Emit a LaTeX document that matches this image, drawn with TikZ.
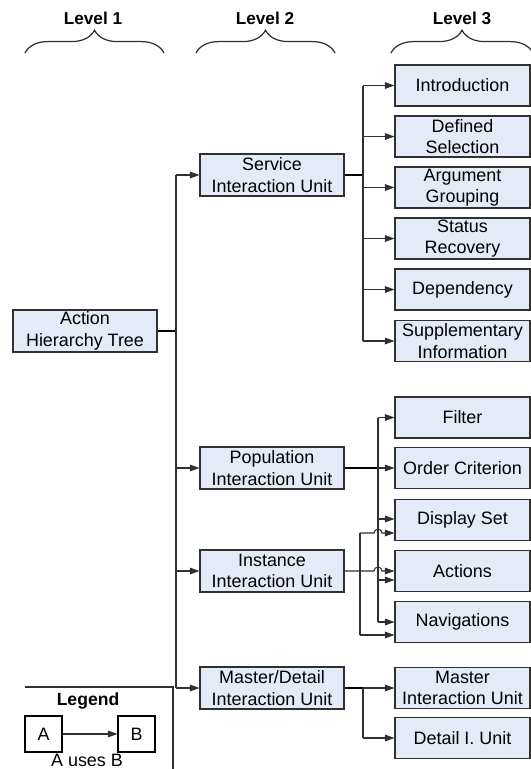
\documentclass[tikz,border=0pt]{standalone}
\usepackage{fontspec}
\setmainfont{Liberation Sans}
\usetikzlibrary{arrows, arrows.meta}
\usetikzlibrary{calc}
\usetikzlibrary{decorations.pathreplacing}
\definecolor{unitfill}{HTML}{E4EBF6}
\definecolor{inkgray}{HTML}{303030}

\tikzset{
  unit/.style={draw=inkgray, fill=unitfill, line width=0.6pt, inner sep=0pt,
    minimum width=2.88cm, minimum height=0.84cm, align=center,
    font=\fontsize{10.2}{12.3}\selectfont},
  leaf/.style={unit, minimum width=2.7cm, minimum height=0.82cm},
  legbox/.style={draw=black, fill=white, line width=0.6pt, inner sep=0pt,
    minimum width=0.74cm, minimum height=0.72cm, font=\fontsize{10.2}{12.3}\selectfont},
  lvl/.style={font=\fontsize{9.8}{12}\selectfont\bfseries},
  wire/.style={draw=inkgray, line width=0.6pt},
  trunk/.style={draw=black, line width=1.1pt},
  arrow/.style={wire, -{Triangle[length=5.5pt, width=3.8pt]}},
  levelbrace/.style={draw=inkgray, line width=0.7pt, decorate,
    decoration={brace, amplitude=13pt}},
}

\begin{document}
\begin{tikzpicture}[x=0.02cm, y=-0.02cm]
    \useasboundingbox (0,0) rectangle (531,769);

    % levels
    \node[lvl] (lvl1) at (93,18) {Level 1};
    \node[lvl] (lvl2) at (265,18) {Level 2};
    \node[lvl] (lvl3) at (462,18) {Level 3};
    \draw[levelbrace] (25,53) -- (164,53);
    \draw[levelbrace] (196,53) -- (335,53);
    \draw[levelbrace] (391,53) -- (533,53);

    % level 1 and 2
    \node[unit] (aht) at (85,331) {Action\\Hierarchy Tree};
    \node[unit] (siu) at (272,175) {Service\\Interaction Unit};
    \node[unit] (piu) at (272,468) {Population\\Interaction Unit};
    \node[unit] (iiu) at (272,571) {Instance\\Interaction Unit};
    \node[unit] (mdiu) at (272,688) {Master/Detail\\Interaction Unit};

    % level 3
    \node[leaf] (intro) at (462.5,85.5) {Introduction};
    \node[leaf] (defsel) at (462.5,136.5) {Defined\\Selection};
    \node[leaf] (arggrp) at (462.5,187.5) {Argument\\Grouping};
    \node[leaf] (statrec) at (462.5,238.5) {Status\\Recovery};
    \node[leaf] (depend) at (462.5,289.5) {Dependency};
    \node[leaf] (supp) at (462.5,341) {Supplementary\\Information};
    \node[leaf] (filter) at (462.5,417.5) {Filter};
    \node[leaf] (order) at (462.5,468) {Order Criterion};
    \node[leaf] (dispset) at (462.5,520) {Display Set};
    \node[leaf] (actions) at (462.5,571) {Actions};
    \node[leaf] (navig) at (462.5,622) {Navigations};
    \node[leaf] (masteriu) at (462.5,688) {Master\\Interaction Unit};
    \node[leaf] (detail) at (462.5,738) {Detail I. Unit};

    \coordinate (bus1) at (176,0);
    \coordinate (bus2) at (363,0);
    \coordinate (bus3) at (378,0);
    \coordinate (bus4) at (360,0);
    \coordinate (ds1) at ($(dispset.west)+(0,-1)$);
    \coordinate (ds2) at ($(dispset.west)+(0,13)$);
    \coordinate (act1) at (actions.west);
    \coordinate (act2) at ($(actions.west)+(0,9)$);
    \coordinate (nav1) at (navig.west);
    \coordinate (nav2) at ($(navig.west)+(0,13)$);

    % level 1 -> level 2
    \draw[trunk] (aht.east) -- (aht.east -| bus1);
    \draw[wire] (siu.west -| bus1) -- (mdiu.west -| bus1);
    \foreach \n in {siu,piu,iiu,mdiu}
      \draw[arrow] (\n.west -| bus1) -- (\n.west);

    % service
    \draw[trunk] (siu.east) -- (siu.east -| bus2);
    \draw[wire] (intro.west -| bus2) -- (supp.west -| bus2);
    \foreach \n in {intro,defsel,arggrp,statrec,depend,supp}
      \draw[arrow] (\n.west -| bus2) -- (\n.west);

    % population
    \draw[trunk] (piu.east) -- (piu.east -| bus3);
    \draw[arrow] (piu.east -| bus3) -- (order.west);
    \draw[wire] (filter.west -| bus3) -- (nav1 -| bus3);
    \foreach \n in {filter.west,ds1,act2,nav1}
      \draw[arrow] (\n -| bus3) -- (\n);

    % instance (hops over the population bus)
    \draw[arrow] (iiu.east) -- ($(act1 -| bus3)+(-4,0)$)
      arc[start angle=180, end angle=0, radius=0.08cm] -- (act1);
    \draw[wire] (ds2 -| bus4) -- (nav2 -| bus4);
    \draw[arrow] (ds2 -| bus4) -- ($(ds2 -| bus3)+(-4,0)$)
      arc[start angle=180, end angle=0, radius=0.08cm] -- (ds2);
    \draw[arrow] (nav2 -| bus4) -- (nav2);

    % master/detail
    \draw[trunk] (mdiu.east) -- (mdiu.east -| bus2);
    \draw[wire] (mdiu.east -| bus2) -- (detail.west -| bus2);
    \draw[arrow] (mdiu.east -| bus2) -- (masteriu.west);
    \draw[arrow] (detail.west -| bus2) -- (detail.west);

    % legend
    \draw[wire] (25,687) -- (173,687) -- (173,775);
    \node[lvl, font=\fontsize{10}{12}\selectfont\bfseries] (legend) at (88,701) {Legend};
    \node[legbox] (a) at (43.5,734) {A};
    \node[legbox] (b) at (136.5,734) {B};
    \draw[arrow] (a) -- (b);
    \node[font=\fontsize{10.2}{12.3}\selectfont] (uses) at (87,760) {A uses B};
\end{tikzpicture}
\end{document}
